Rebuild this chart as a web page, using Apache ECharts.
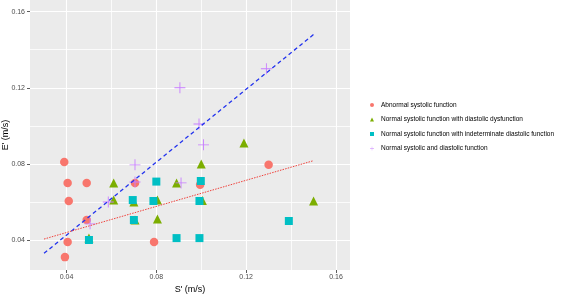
<!DOCTYPE html>
<html>
<head>
<meta charset="utf-8">
<script src="https://cdn.jsdelivr.net/npm/echarts@6/dist/echarts.min.js"></script>
<style>
  html, body { margin: 0; padding: 0; background: #fff; }
  #chart { width: 567px; height: 294px; }
</style>
</head>
<body>
<div id="chart"></div>
<script>
// S' (x) and E' (y) values, m/s
var abnormal = [
  [0.039, 0.081], [0.0405, 0.070], [0.049, 0.070], [0.041, 0.0605],
  [0.049, 0.0505], [0.0405, 0.039], [0.0393, 0.031], [0.079, 0.039],
  [0.0705, 0.070], [0.0995, 0.069], [0.130, 0.0795]
];
var diastolicDys = [
  [0.061, 0.070], [0.061, 0.061], [0.070, 0.060], [0.0705, 0.0505],
  [0.0805, 0.061], [0.0805, 0.051], [0.089, 0.070], [0.050, 0.041],
  [0.100, 0.080], [0.119, 0.091], [0.1005, 0.0607], [0.150, 0.0605]
];
var indeterminate = [
  [0.050, 0.040], [0.0695, 0.061], [0.070, 0.0505], [0.0787, 0.0605],
  [0.080, 0.0707], [0.089, 0.041], [0.0998, 0.071], [0.0992, 0.0605],
  [0.0992, 0.041], [0.139, 0.050]
];
var normalBoth = [
  [0.0905, 0.120], [0.129, 0.130], [0.099, 0.101], [0.101, 0.090],
  [0.0705, 0.0795], [0.0705, 0.0705], [0.0586, 0.060], [0.0505, 0.0485],
  [0.091, 0.070]
];
// fitted lines (end points)
var fitBlue = [[0.030, 0.033], [0.150, 0.148]];
var fitRed = [[0.030, 0.0405], [0.150, 0.0817]];

var xTicks = [0.04, 0.08, 0.12, 0.16];
var xMinor = [0.06, 0.10, 0.14];
var yTicks = [0.04, 0.08, 0.12, 0.16];
var yMinor = [0.06, 0.10, 0.14];
var legendNames = [
  "Abnormal systolic function",
  "Normal systolic function with diastolic dysfunction",
  "Normal systolic function with indeterminate diastolic function",
  "Normal systolic and diastolic function"
];

var crossPath = "path://M4.6,0h0.8v10h-0.8z M0,4.6h10v0.8h-10z";
var font = "Liberation Sans, Arial, sans-serif";

function fmt(v) {
  return v.toFixed(2);
}

function majorAxis(min, max, ticks, name, isX) {
  return {
    type: "value",
    min: min,
    max: max,
    name: name,
    nameLocation: "middle",
    nameRotate: isX ? 0 : 90,
    nameGap: isX ? 15 : 20,
    nameMoveOverlap: false,
    nameTextStyle: { color: "#000", fontSize: 9, fontFamily: font },
    axisLine: { show: false },
    axisTick: { show: true, length: 3, customValues: ticks, lineStyle: { color: "#333", width: 0.8 } },
    axisLabel: { customValues: ticks, formatter: fmt, color: "#4D4D4D", fontSize: 7, fontFamily: font, margin: isX ? 4 : 5 },
    splitLine: { show: true, lineStyle: { color: "#fff", width: 1.1 } }
  };
}

// only draws the thin grid lines between the labelled ones
function minorAxis(min, max, ticks, pos) {
  return {
    type: "value",
    min: min,
    max: max,
    position: pos,
    axisLine: { show: false },
    axisTick: { show: false, customValues: ticks },
    axisLabel: { show: false, customValues: ticks },
    splitLine: { show: true, lineStyle: { color: "#fff", width: 0.8 } }
  };
}

var chart = echarts.init(document.getElementById("chart"));
chart.setOption({
  animation: false,
  grid: {
    left: 30, right: 217, top: 0, bottom: 24,
    containLabel: false,
    outerBoundsMode: "none",
    show: true, backgroundColor: "#EBEBEB", borderWidth: 0
  },
  legend: {
    orient: "vertical",
    left: 365,
    top: 96,
    itemWidth: 4,
    itemHeight: 4,
    itemGap: 6.5,
    data: legendNames,
    textStyle: { color: "#000", fontSize: 6.5, fontFamily: font, lineHeight: 8, padding: [0, 0, 0, 2] }
  },
  xAxis: [
    majorAxis(0.02375, 0.16623, xTicks, "S' (m/s)", true),
    minorAxis(0.02375, 0.16623, xMinor, "top")
  ],
  yAxis: [
    majorAxis(0.02423, 0.16615, yTicks, "E' (m/s)", false),
    minorAxis(0.02423, 0.16615, yMinor, "right")
  ],
  series: [
    {
      name: legendNames[0], type: "scatter", data: abnormal,
      symbol: "circle", symbolSize: 8.5, itemStyle: { color: "#F8766D", opacity: 1 }
    },
    {
      name: legendNames[1], type: "scatter", data: diastolicDys,
      symbol: "triangle", symbolSize: 9, itemStyle: { color: "#7CAE00", opacity: 1 }
    },
    {
      name: legendNames[2], type: "scatter", data: indeterminate,
      symbol: "rect", symbolSize: 8, itemStyle: { color: "#00BFC4", opacity: 1 }
    },
    {
      name: legendNames[3], type: "scatter", data: normalBoth,
      symbol: crossPath, symbolSize: 11, itemStyle: { color: "#C77CFF", opacity: 1 }
    },
    {
      type: "line", data: fitBlue, symbol: "none", z: 5,
      lineStyle: { color: "#2233EE", width: 1.3, type: [4, 3] }
    },
    {
      type: "line", data: fitRed, symbol: "none", z: 5,
      lineStyle: { color: "#F0403A", width: 1, type: [1.5, 1.2] }
    }
  ]
});
</script>
</body>
</html>
